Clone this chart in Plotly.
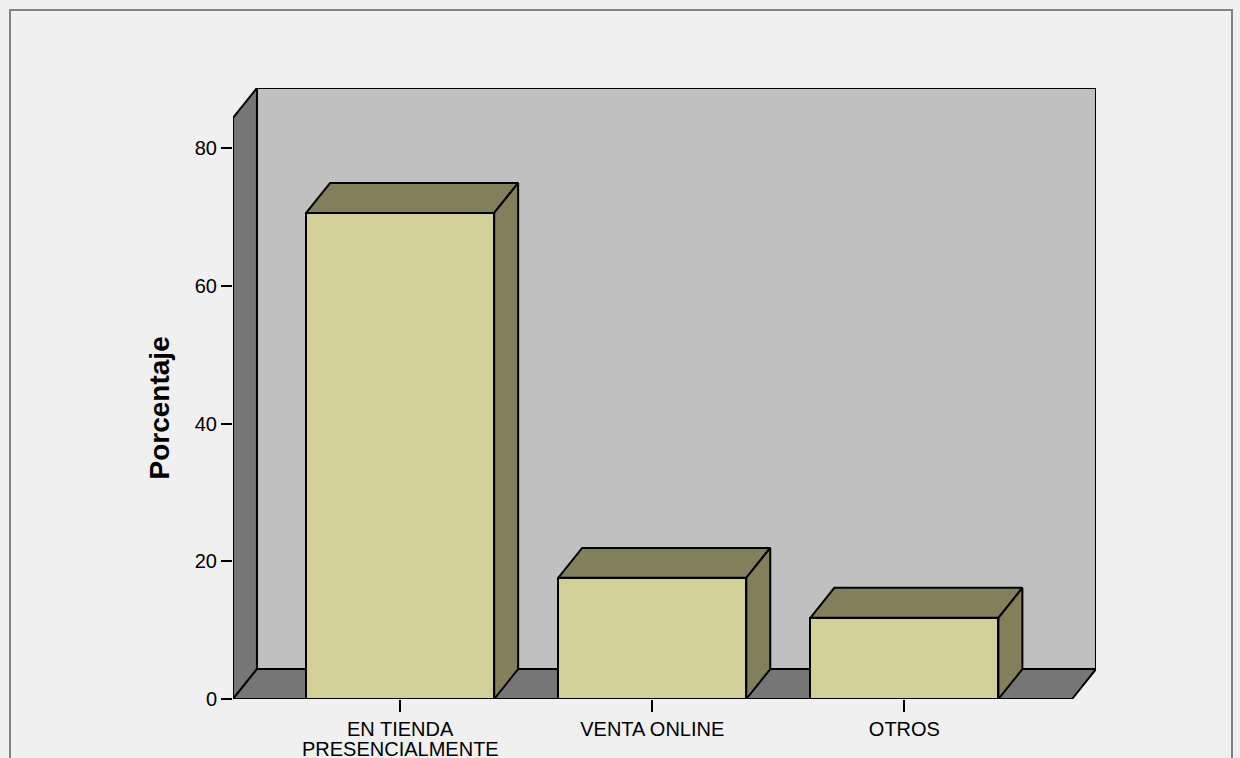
import plotly.graph_objects as go

# Data
categories = ["EN TIENDA<br>PRESENCIALMENTE", "VENTA ONLINE", "OTROS"]
porcentaje = [70.6, 17.6, 11.8]
y_ticks = [0, 20, 40, 60, 80]

# Styling / geometry of the pseudo-3D frame
FONT = "Arial, Liberation Sans, sans-serif"
BG = "#F0F0F0"
WALL = "#C0C0C0"
SIDE = "#767676"
BAR_FRONT = "#D3CF98"
BAR_SHADE = "#827F5B"
EDGE = "black"

X0, X1 = -0.663, 2.665          # front floor extent (category units)
DX, DY = 0.095, 4.35            # depth offset of the 3D projection
AXIS_TOP = 84.4                 # top of the value axis
BAR_W = 0.746
X_RANGE = [X0, X1 + DX]
Y_RANGE = [0, AXIS_TOP + DY]

fig = go.Figure()


def poly(pts):
    return "M " + " L ".join(f"{x},{y}" for x, y in pts) + " Z"


# back wall, left side wall and floor
walls = [
    (poly([(X0 + DX, DY), (X0 + DX, AXIS_TOP + DY), (X1 + DX, AXIS_TOP + DY), (X1 + DX, DY)]), WALL),
    (poly([(X0, 0), (X0, AXIS_TOP), (X0 + DX, AXIS_TOP + DY), (X0 + DX, DY)]), SIDE),
    (poly([(X0, 0), (X0 + DX, DY), (X1 + DX, DY), (X1, 0)]), SIDE),
]
shapes = []
for path, col in walls:
    shapes.append(dict(type="path", path=path, xref="x", yref="y", layer="below",
                       fillcolor=col, line=dict(color=EDGE, width=2)))

# outer chart frame
px_w, px_h = 1096 - 233, 699 - 88
shapes.append(dict(type="rect", xref="paper", yref="paper", layer="above",
                   x0=(10 - 233) / px_w, x1=(1232 - 233) / px_w,
                   y0=(699 - 775) / px_h, y1=(699 - 10) / px_h,
                   line=dict(color="#828282", width=2), fillcolor="rgba(0,0,0,0)"))

# bar fronts
xs = list(range(len(categories)))
fig.add_trace(go.Bar(x=xs, y=porcentaje, width=BAR_W,
                     marker=dict(color=BAR_FRONT, line=dict(color=EDGE, width=2)),
                     hoverinfo="skip", showlegend=False))

# bar tops and right sides
for x, v in zip(xs, porcentaje):
    l, r = x - BAR_W / 2, x + BAR_W / 2
    top = [(l, v), (l + DX, v + DY), (r + DX, v + DY), (r, v), (l, v)]
    side = [(r, v), (r + DX, v + DY), (r + DX, DY), (r, 0), (r, v)]
    for pts in (top, side):
        fig.add_trace(go.Scatter(x=[p[0] for p in pts], y=[p[1] for p in pts],
                                 mode="lines", fill="toself", fillcolor=BAR_SHADE,
                                 line=dict(color=EDGE, width=2),
                                 hoverinfo="skip", showlegend=False))

# category labels: first line on the axis, further lines as annotations
first_lines = [c.split("<br>")[0] for c in categories]
annotations = []
for x, c in zip(xs, categories):
    for i, line in enumerate(c.split("<br>")[1:], start=1):
        annotations.append(dict(x=x, y=0, xref="x", yref="y", text=line, showarrow=False,
                                yanchor="top", yshift=-12 - 21 * i - 4,
                                font=dict(family=FONT, size=20, color="black")))

annotations.append(dict(x=(159 - 233) / px_w, y=AXIS_TOP / 2, xref="paper", yref="y",
                        text="<b>Porcentaje</b>", textangle=-90, showarrow=False,
                        xanchor="center", yanchor="middle",
                        font=dict(family=FONT, size=28, color="black")))

fig.update_layout(
    width=1240, height=758,
    margin=dict(l=233, r=1240 - 1096, t=88, b=758 - 699),
    paper_bgcolor=BG, plot_bgcolor=BG,
    shapes=shapes, annotations=annotations,
    bargap=0, showlegend=False,
    font=dict(family=FONT, size=20, color="black"),
)
fig.update_xaxes(range=X_RANGE, tickvals=xs, ticktext=first_lines,
                 ticks="outside", ticklen=12, tickwidth=2, tickcolor="black",
                 showgrid=False, zeroline=False, showline=False,
                 tickfont=dict(family=FONT, size=20, color="black"))
fig.update_yaxes(range=Y_RANGE, tickvals=y_ticks,
                 ticks="outside", ticklen=11, tickwidth=2, tickcolor="black",
                 showgrid=False, zeroline=False, showline=False,
                 tickfont=dict(family=FONT, size=20, color="black"))

fig.write_html("out.html")
